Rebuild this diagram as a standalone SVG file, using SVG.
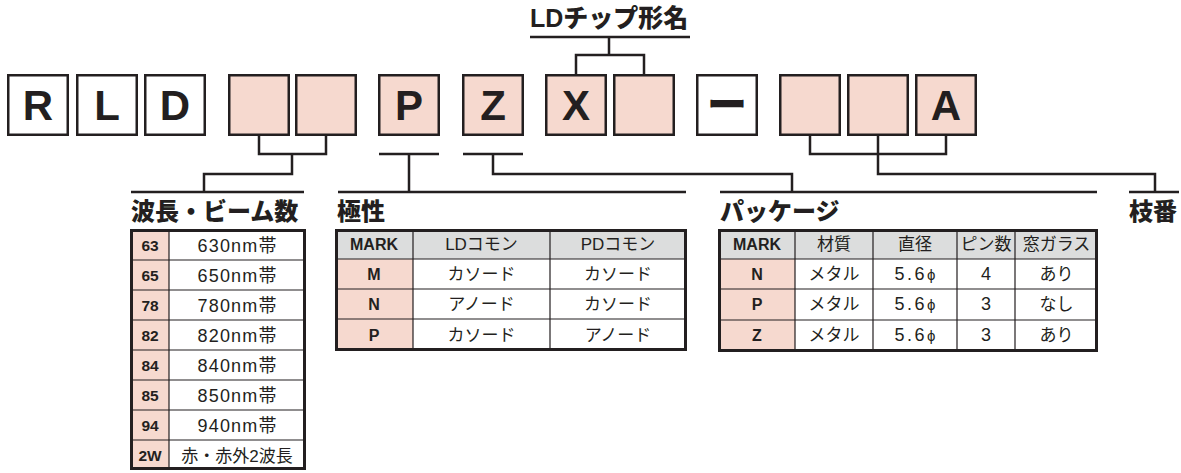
<svg xmlns="http://www.w3.org/2000/svg" width="1181" height="473" viewBox="0 0 1181 473">
<style>
.box{stroke:#231f20;stroke-width:2.5}
.w{fill:#ffffff}
.p{fill:#f6d9cf}
.bl{font-family:"Liberation Sans",Arial,sans-serif;font-weight:bold;font-size:42px;fill:#231f20;text-anchor:middle}
.dash{font-family:"Noto Sans CJK JP",sans-serif;font-weight:900;font-size:40px;fill:#231f20;text-anchor:middle}
.conn path{fill:none;stroke:#231f20;stroke-width:2.5}
.ttl{font-family:"Liberation Sans","Noto Sans CJK JP",sans-serif;font-weight:900;font-size:24px;fill:#231f20}
.tb{fill:none;stroke:#231f20;stroke-width:3}
.grid{stroke:#231f20;stroke-width:1.2;fill:none}
.code{font-family:"Liberation Sans",Arial,sans-serif;font-weight:bold;font-size:15.5px;fill:#231f20;text-anchor:middle}
.mk{font-family:"Liberation Sans",Arial,sans-serif;font-weight:bold;font-size:16px;fill:#231f20;text-anchor:middle}
.txt{font-family:"Liberation Sans","Noto Sans CJK JP",sans-serif;font-size:17px;fill:#231f20;text-anchor:middle}
.num{font-size:18px}
.hd{fill:#dcdddd}
</style>
<rect x="0" y="0" width="1181" height="473" fill="#ffffff"/>

<g id="title-ldchip">
<text class="ttl" x="530" y="27" style="font-size:25px">LDチップ形名</text>
</g>

<g id="box-R"><rect class="box w" x="8.25" y="75.25" width="59.5" height="59.5"/><text class="bl" x="38" y="120">R</text></g>
<g id="box-L"><rect class="box w" x="77.25" y="75.25" width="59.5" height="59.5"/><text class="bl" x="107" y="120">L</text></g>
<g id="box-D"><rect class="box w" x="145.25" y="75.25" width="59.5" height="59.5"/><text class="bl" x="175" y="120">D</text></g>
<g id="box-wl1"><rect class="box p" x="229.25" y="75.25" width="59.5" height="59.5"/></g>
<g id="box-wl2"><rect class="box p" x="296.25" y="75.25" width="59.5" height="59.5"/></g>
<g id="box-P"><rect class="box p" x="379.25" y="75.25" width="59.5" height="59.5"/><text class="bl" x="409" y="120">P</text></g>
<g id="box-Z"><rect class="box p" x="463.25" y="75.25" width="59.5" height="59.5"/><text class="bl" x="493" y="120">Z</text></g>
<g id="box-X"><rect class="box p" x="546.25" y="75.25" width="59.5" height="59.5"/><text class="bl" x="576" y="120">X</text></g>
<g id="box-chip2"><rect class="box p" x="614.25" y="75.25" width="59.5" height="59.5"/></g>
<g id="box-dash"><rect class="box w" x="697.25" y="75.25" width="59.5" height="59.5"/><text class="dash" x="727" y="119">ー</text></g>
<g id="box-br1"><rect class="box p" x="780.25" y="75.25" width="59.5" height="59.5"/></g>
<g id="box-br2"><rect class="box p" x="848.25" y="75.25" width="59.5" height="59.5"/></g>
<g id="box-A"><rect class="box p" x="916.25" y="75.25" width="59.5" height="59.5"/><text class="bl" x="946" y="120">A</text></g>

<g id="connectors" class="conn">
<path d="M530,37 H690 M609,37 V55 M576,74 V55 H644 V74"/>
<path d="M259,136 V154 H326 V136 M292,154 V174 H204 V192 M131,192 H304"/>
<path d="M379,154 H439 M409,154 V192 M338,192 H686"/>
<path d="M463,154 H523 M493,154 V174 H792 V192 M720,192 H1097"/>
<path d="M810,136 V154 H946 V136 M878,136 V174 H1155 V192 M1129,192 H1179"/>
</g>

<g id="wavelength">
<text class="ttl" x="131" y="220">波長・ビーム数</text>
<rect x="131.5" y="230.5" width="173" height="238" fill="#ffffff"/>
<rect class="p" x="131.5" y="230.5" width="37.5" height="238"/>
<path class="grid" d="M169,230 V469 M131,260 H305 M131,290 H305 M131,320 H305 M131,350 H305 M131,380 H305 M131,410 H305 M131,440 H305"/>
<rect class="tb" x="131.5" y="230.5" width="173" height="238"/>
<text class="code" x="150" y="251">63</text><text class="txt num" x="237" y="252" textLength="79" lengthAdjust="spacing">630nm帯</text>
<text class="code" x="150" y="281">65</text><text class="txt num" x="237" y="282" textLength="79" lengthAdjust="spacing">650nm帯</text>
<text class="code" x="150" y="311">78</text><text class="txt num" x="237" y="312" textLength="79" lengthAdjust="spacing">780nm帯</text>
<text class="code" x="150" y="341">82</text><text class="txt num" x="237" y="342" textLength="79" lengthAdjust="spacing">820nm帯</text>
<text class="code" x="150" y="371">84</text><text class="txt num" x="237" y="372" textLength="79" lengthAdjust="spacing">840nm帯</text>
<text class="code" x="150" y="401">85</text><text class="txt num" x="237" y="402" textLength="79" lengthAdjust="spacing">850nm帯</text>
<text class="code" x="150" y="431">94</text><text class="txt num" x="237" y="432" textLength="79" lengthAdjust="spacing">940nm帯</text>
<text class="code" x="150" y="461">2W</text><text class="txt" x="237" y="462">赤・赤外2波長</text>
</g>

<g id="polarity">
<text class="ttl" x="337" y="220">極性</text>
<rect x="336.5" y="230.5" width="349" height="119" fill="#ffffff"/>
<rect class="hd" x="336.5" y="230.5" width="349" height="28.5"/>
<rect class="p" x="336.5" y="259" width="76.5" height="90.5"/>
<path class="grid" d="M413,230 V350 M550,230 V350 M336,259 H686 M336,289 H686 M336,319 H686"/>
<rect class="tb" x="336.5" y="230.5" width="349" height="119"/>
<text class="mk" x="374" y="250">MARK</text><text class="txt" x="481.5" y="250">LDコモン</text><text class="txt" x="618" y="250">PDコモン</text>
<text class="mk" x="374" y="280">M</text><text class="txt" x="481.5" y="280">カソード</text><text class="txt" x="618" y="280">カソード</text>
<text class="mk" x="374" y="310">N</text><text class="txt" x="481.5" y="310">アノード</text><text class="txt" x="618" y="310">カソード</text>
<text class="mk" x="374" y="341">P</text><text class="txt" x="481.5" y="341">カソード</text><text class="txt" x="618" y="341">アノード</text>
</g>

<g id="package">
<text class="ttl" x="720" y="220">パッケージ</text>
<rect x="719.5" y="230.5" width="377" height="120" fill="#ffffff"/>
<rect class="hd" x="719.5" y="230.5" width="377" height="28.5"/>
<rect class="p" x="719.5" y="259" width="75.5" height="91.5"/>
<path class="grid" d="M795,230 V351 M873,230 V351 M957,230 V351 M1015,230 V351 M719,259 H1097 M719,289 H1097 M719,320 H1097"/>
<rect class="tb" x="719.5" y="230.5" width="377" height="120"/>
<text class="mk" x="757" y="250">MARK</text><text class="txt" x="834" y="250">材質</text><text class="txt" x="915" y="250">直径</text><text class="txt" x="986" y="250">ピン数</text><text class="txt" x="1056.5" y="250">窓ガラス</text>
<text class="mk" x="757" y="280">N</text><text class="txt" x="834" y="280">メタル</text><text class="txt num" x="915" y="280" textLength="41" lengthAdjust="spacing">5.6<tspan font-size="15">ϕ</tspan></text><text class="txt num" x="986" y="280">4</text><text class="txt" x="1056.5" y="280">あり</text>
<text class="mk" x="757" y="310">P</text><text class="txt" x="834" y="310">メタル</text><text class="txt num" x="915" y="310" textLength="41" lengthAdjust="spacing">5.6<tspan font-size="15">ϕ</tspan></text><text class="txt num" x="986" y="310">3</text><text class="txt" x="1056.5" y="310">なし</text>
<text class="mk" x="757" y="341">Z</text><text class="txt" x="834" y="341">メタル</text><text class="txt num" x="915" y="341" textLength="41" lengthAdjust="spacing">5.6<tspan font-size="15">ϕ</tspan></text><text class="txt num" x="986" y="341">3</text><text class="txt" x="1056.5" y="341">あり</text>
</g>

<g id="branch">
<text class="ttl" x="1129" y="220">枝番</text>
</g>
</svg>
